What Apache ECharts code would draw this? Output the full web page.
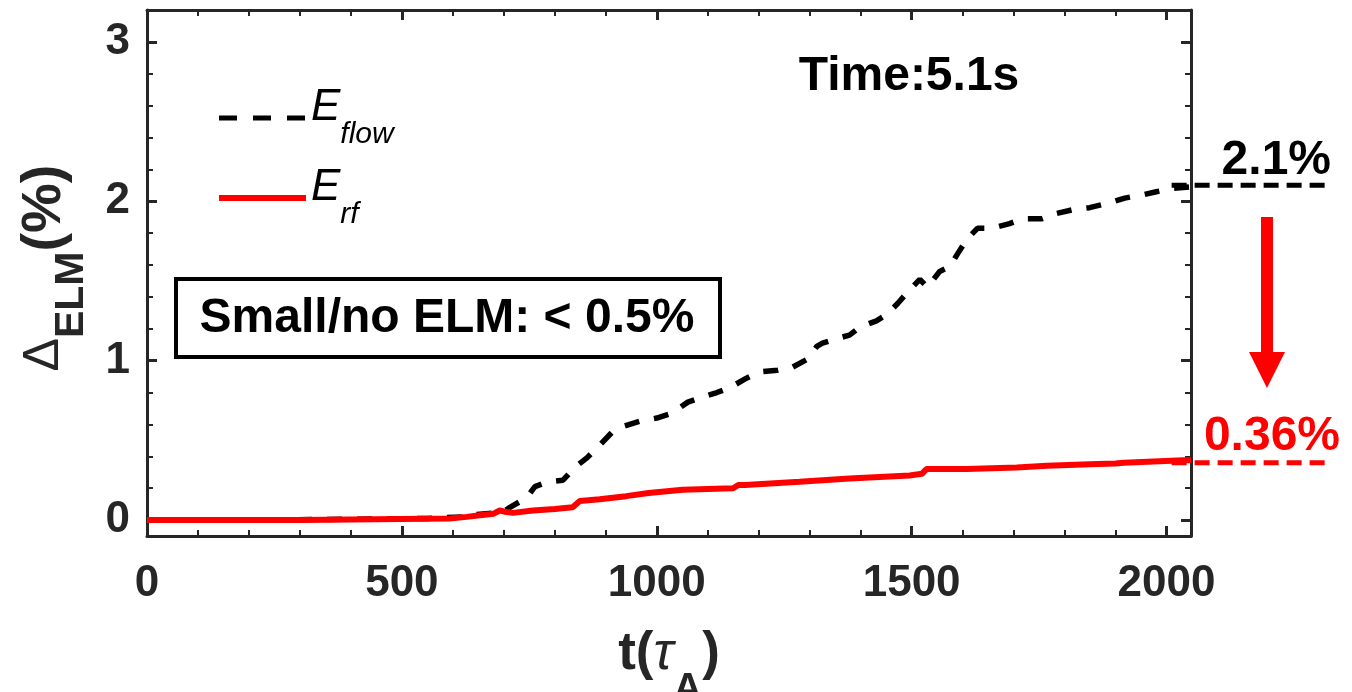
<!DOCTYPE html>
<html><head><meta charset="utf-8">
<script src="https://cdn.jsdelivr.net/npm/echarts@6/dist/echarts.min.js"></script>
<style>html,body{margin:0;padding:0;background:#fff}#c{width:1352px;height:692px}</style>
</head><body><div id="c"></div>
<script>
const FONT = "'Liberation Sans', Arial, Helvetica, sans-serif";
const AXC = '#262626';

// E_flow (black dashed)
const flowT = [0, 200, 400, 550, 620, 647, 698, 712, 745, 761, 786, 816, 839, 863, 888, 912, 937, 967, 1000, 1029, 1061, 1088, 1118, 1143, 1176, 1202, 1237, 1267, 1296, 1314, 1325, 1355, 1378, 1398, 1431, 1451, 1473, 1492, 1516, 1531, 1555, 1575, 1590, 1608, 1629, 1657, 1692, 1718, 1755, 1780, 1820, 1849, 1888, 1918, 1953, 1980, 2010, 2048];
const flowV = [0.0, 0.0, 0.005, 0.01, 0.02, 0.035, 0.05, 0.08, 0.14, 0.21, 0.24, 0.25, 0.33, 0.39, 0.47, 0.55, 0.59, 0.62, 0.64, 0.67, 0.74, 0.77, 0.80, 0.83, 0.89, 0.93, 0.94, 0.96, 1.01, 1.09, 1.11, 1.14, 1.16, 1.21, 1.25, 1.29, 1.36, 1.43, 1.51, 1.46, 1.56, 1.59, 1.67, 1.76, 1.83, 1.83, 1.86, 1.89, 1.89, 1.92, 1.95, 1.96, 1.99, 2.02, 2.04, 2.06, 2.08, 2.09];

// E_rf (red solid)
const rfT = [0, 300, 450, 594, 627, 653, 680, 692, 705, 718, 757, 800, 835, 849, 888, 940, 984, 1051, 1150, 1160, 1173, 1280, 1378, 1496, 1520, 1529, 1608, 1706, 1765, 1850, 1900, 1916, 2033, 2048];
const rfV = [0.0, 0.0, 0.005, 0.01, 0.02, 0.03, 0.04, 0.06, 0.05, 0.045, 0.06, 0.07, 0.08, 0.12, 0.13, 0.15, 0.17, 0.19, 0.20, 0.22, 0.22, 0.24, 0.26, 0.28, 0.29, 0.32, 0.32, 0.33, 0.34, 0.35, 0.355, 0.36, 0.375, 0.375];

const yMajorTicks = [0, 1, 2, 3];
const yMinorTicks = [0.2, 0.4, 0.6, 0.8, 1.2, 1.4, 1.6, 1.8, 2.2, 2.4, 2.6, 2.8, 3.0];
const flowFinal = 2.1, rfFinal = 0.36;
const flowFinalLabel = '2.1%', rfFinalLabel = '0.36%';
const timeLabel = 'Time:5.1s';
const boxLabel = 'Small/no ELM: < 0.5%';

const chart = echarts.init(document.getElementById('c'), null, {renderer: 'canvas'});

const axisLineStyle = {color: AXC, width: 3};
function xAx(pos, showLabel) {
  return {
    type: 'value', position: pos, min: 0, max: 2048, interval: 500,
    axisLine: {show: true, onZero: false, lineStyle: axisLineStyle},
    axisTick: {show: true, inside: true, length: 10, lineStyle: {color: AXC, width: 3}},
    minorTick: {show: true, splitNumber: 5, length: 6, lineStyle: {color: AXC, width: 2}},
    axisLabel: {show: showLabel, margin: 26, color: AXC, fontSize: 44, fontWeight: 'bold', fontFamily: FONT,
      formatter: function (v) { return String(v); }},
    splitLine: {show: false}, minorSplitLine: {show: false},
    name: showLabel ? '{b|t(}{tau|τ}{a|A}{b|)}' : '',
    nameLocation: 'middle', nameGap: 107,
    nameTextStyle: {
      rich: {
        b: {fontSize: 53, fontWeight: 'bold', fontFamily: FONT, color: AXC, lineHeight: 52, padding: [0, 0, 30, 0]},
        tau: {fontSize: 53, fontStyle: 'italic', fontFamily: FONT, color: AXC, lineHeight: 52, padding: [0, 0, 30, 0]},
        a: {fontSize: 40, fontWeight: 'bold', fontFamily: FONT, color: AXC, lineHeight: 40, padding: [42, 0, 0, 0]}
      }
    }
  };
}
function yAx(pos, ticks, len, width, showLine, showLabel) {
  return {
    type: 'value', position: pos, min: -0.1, max: 3.2,
    axisLine: {show: showLine, onZero: false, lineStyle: axisLineStyle},
    axisTick: {show: true, inside: true, length: len, customValues: ticks, lineStyle: {color: AXC, width: width}},
    axisLabel: {show: showLabel, customValues: ticks, margin: 17, color: AXC, fontSize: 44, fontWeight: 'bold', fontFamily: FONT},
    splitLine: {show: false},
    name: showLabel ? '{d|Δ}{s|ELM}{p|(%)}' : '',
    nameLocation: 'middle', nameRotate: 90, nameGap: 62,
    nameTextStyle: {
      padding: [0, 0, 0, 10],
      rich: {
        d: {fontSize: 50, fontFamily: FONT, color: AXC, lineHeight: 50, padding: [0, 0, 22, 0]},
        s: {fontSize: 41, fontWeight: 'bold', fontFamily: FONT, color: AXC, lineHeight: 40, padding: [32, 0, 0, 0]},
        p: {fontSize: 56, fontWeight: 'bold', fontFamily: FONT, color: AXC, lineHeight: 50, padding: [0, 0, 22, 0]}
      }
    }
  };
}

const option = {
  animation: false,
  backgroundColor: '#fff',
  grid: {left: 147, right: 161, top: 10, bottom: 156, outerBoundsMode: 'none', containLabel: false},
  xAxis: [xAx('bottom', true), xAx('top', false)],
  yAxis: [
    yAx('left', yMajorTicks, 10, 3, true, true),
    yAx('right', yMajorTicks, 10, 3, true, false),
    yAx('left', yMinorTicks, 6, 2, false, false),
    yAx('right', yMinorTicks, 6, 2, false, false)
  ],
  legend: {
    orient: 'vertical', left: 211, top: 81, itemWidth: 87, itemHeight: 14, itemGap: 16,
    lineStyle: {width: 5},
    itemStyle: {opacity: 0},
    data: [
      {name: 'E_flow', lineStyle: {type: [18, 16], width: 5}},
      {name: 'E_rf', lineStyle: {width: 6}}
    ],
    formatter: function (n) { return n === 'E_flow' ? '{e|E}{s|flow}' : '{e|E}{s|rf}'; },
    textStyle: {
      rich: {
        e: {fontSize: 44, fontStyle: 'italic', fontFamily: FONT, color: '#000', lineHeight: 44, padding: [0, 0, 20, 0]},
        s: {fontSize: 30, fontStyle: 'italic', fontFamily: FONT, color: '#000', lineHeight: 30, padding: [34, 0, 0, 0]}
      }
    }
  },
  series: [
    {
      name: 'E_flow', type: 'line', xAxisIndex: 0, yAxisIndex: 0, symbol: 'none', showSymbol: false,
      data: flowT.map((t, i) => [t, flowV[i]]),
      lineStyle: {color: '#000', width: 5.5, type: [15, 15]}, itemStyle: {color: '#000'}, z: 2
    },
    {
      name: 'E_rf', type: 'line', xAxisIndex: 0, yAxisIndex: 0, symbol: 'none', showSymbol: false,
      data: rfT.map((t, i) => [t, rfV[i]]),
      lineStyle: {color: '#ff0000', width: 6}, itemStyle: {color: '#ff0000'}, z: 3
    }
  ]
};
chart.setOption(option);

const yF = chart.convertToPixel({yAxisIndex: 0}, flowFinal);
const yR = chart.convertToPixel({yAxisIndex: 0}, rfFinal);
const xStart = chart.convertToPixel({xAxisIndex: 0}, 2010);
const xEnd = 1332;

chart.setOption({
  graphic: [
    {type: 'text', x: 909, y: 77, style: {text: timeLabel, fontSize: 48, fontWeight: 'bold', fontFamily: FONT, fill: '#000', align: 'center', verticalAlign: 'middle'}},
    {type: 'rect', shape: {x: 176, y: 279, width: 544, height: 78}, style: {fill: '#fff', stroke: '#000', lineWidth: 4}, z: 10},
    {type: 'text', x: 447, y: 319, z: 11, style: {text: boxLabel, fontSize: 48, fontWeight: 'bold', fontFamily: FONT, fill: '#000', align: 'center', verticalAlign: 'middle'}},
    {type: 'line', shape: {x1: xStart, y1: yF, x2: xEnd, y2: yF}, style: {stroke: '#000', lineWidth: 5, lineDash: [15, 8]}},
    {type: 'line', shape: {x1: xStart, y1: yR, x2: xEnd, y2: yR}, style: {stroke: '#ff0000', lineWidth: 5, lineDash: [15, 8]}},
    {type: 'text', x: 1331, y: yF - 25, style: {text: flowFinalLabel, fontSize: 48, fontWeight: 'bold', fontFamily: FONT, fill: '#000', align: 'right', verticalAlign: 'middle'}},
    {type: 'text', x: 1340, y: yR - 26, style: {text: rfFinalLabel, fontSize: 48, fontWeight: 'bold', fontFamily: FONT, fill: '#ff0000', align: 'right', verticalAlign: 'middle'}},
    {type: 'polygon', shape: {points: [[1261, 217], [1273, 217], [1273, 352], [1285, 352], [1267, 388], [1249, 352], [1261, 352]]}, style: {fill: '#ff0000'}}
  ]
});
</script>
</body></html>
